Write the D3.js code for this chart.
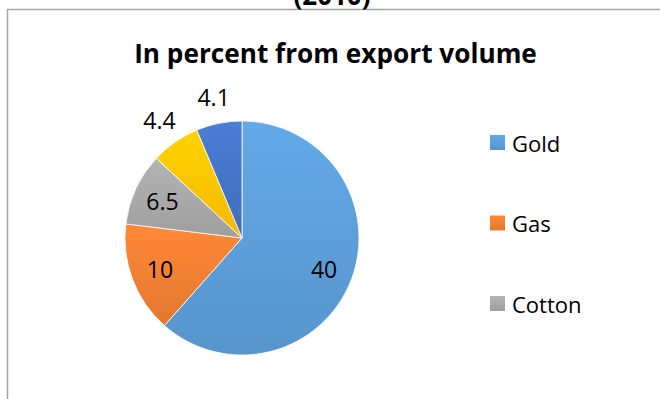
<!DOCTYPE html>
<html>
<head>
<meta charset="utf-8">
<script src="https://cdn.jsdelivr.net/npm/d3@7"></script>
<style>
  body { margin: 0; background: #fff; }
  text { font-family: "Open Sans", "Noto Sans", sans-serif; fill: #000; }
</style>
</head>
<body>
<div id="chart"></div>
<script>
const categories = ["Gold", "Gas", "Cotton", "Other 1", "Other 2"];
const values = [40, 10, 6.5, 4.4, 4.1];
const colors = ["#5b9bd5", "#ed7d31", "#a5a5a5", "#ffc000", "#4472c4"];
const legendItems = ["Gold", "Gas", "Cotton"];

const width = 660, height = 399;
const cx = 242, cy = 238, radius = 117;

const data = categories.map((c, i) => ({name: c, value: values[i], color: colors[i]}));

const svg = d3.select("#chart")
    .append("svg")
    .attr("width", width)
    .attr("height", height);

// gradients, lighter on top like the office style
const defs = svg.append("defs");
data.forEach((d, i) => {
    const g = defs.append("linearGradient")
        .attr("id", "grad" + i)
        .attr("x1", 0).attr("y1", 0).attr("x2", 0).attr("y2", 1);
    g.append("stop").attr("offset", "0%").attr("stop-color", d3.color(d.color).brighter(0.25));
    g.append("stop").attr("offset", "100%").attr("stop-color", d3.color(d.color).darker(0.12));
});

// chart frame (cut off at right and bottom)
svg.append("rect")
    .attr("x", 7.5).attr("y", 9.5)
    .attr("width", 700).attr("height", 450)
    .attr("fill", "#fff")
    .attr("stroke", "#a6a6a6")
    .attr("stroke-width", 1.5);

// main title, only the bottom of it shows above the frame
svg.append("text")
    .attr("x", 332).attr("y", 5)
    .attr("text-anchor", "middle")
    .style("font-weight", "bold")
    .style("font-size", "26px")
    .text("(2010)");

const title = svg.append("text")
    .attr("x", 335.5).attr("y", 63)
    .attr("text-anchor", "middle")
    .style("font-weight", "bold")
    .style("font-size", "24px")
    .text("In percent from export volume");
const tl = title.node().getComputedTextLength();
title.style("font-size", (24 * 403 / tl) + "px");

const pie = d3.pie().sort(null).value(d => d.value);
const arcs = pie(data);
const arc = d3.arc().innerRadius(0).outerRadius(radius);

const g = svg.append("g").attr("transform", `translate(${cx},${cy})`);

g.selectAll("path")
    .data(arcs)
    .enter().append("path")
    .attr("d", arc)
    .attr("fill", (d, i) => `url(#grad${i})`)
    .attr("stroke", "#fff")
    .attr("stroke-width", 0.8);

const inner = d3.arc().innerRadius(radius * 0.75).outerRadius(radius * 0.75);

g.selectAll(".lbl")
    .data(arcs)
    .enter().append("text")
    .attr("class", "lbl")
    .style("font-size", "23px")
    .attr("text-anchor", "middle")
    .attr("dominant-baseline", "central")
    .text(d => d.data.value)
    .each(function(d) {
        const a = (d.startAngle + d.endAngle) / 2;
        const big = (d.endAngle - d.startAngle) > 0.5;
        let x, y;
        if (big) {
            [x, y] = inner.centroid(d);
        } else {
            const bb = this.getBBox();
            const r = radius + 11;
            x = Math.sin(a) * r + Math.sin(a) * bb.width / 2;
            y = -Math.cos(a) * r - Math.cos(a) * bb.height / 2;
        }
        d3.select(this).attr("x", x).attr("y", y);
    });

// legend
const legend = svg.append("g").attr("transform", "translate(490,135)");
const li = legend.selectAll("g")
    .data(legendItems)
    .enter().append("g")
    .attr("transform", (d, i) => `translate(0,${i * 80.5})`);

li.append("rect")
    .attr("width", 15).attr("height", 15)
    .attr("fill", (d, i) => `url(#grad${i})`);

li.append("text")
    .attr("x", 22).attr("y", 7.5)
    .attr("dominant-baseline", "central")
    .style("font-size", "22px")
    .text(d => d);
</script>
</body>
</html>
